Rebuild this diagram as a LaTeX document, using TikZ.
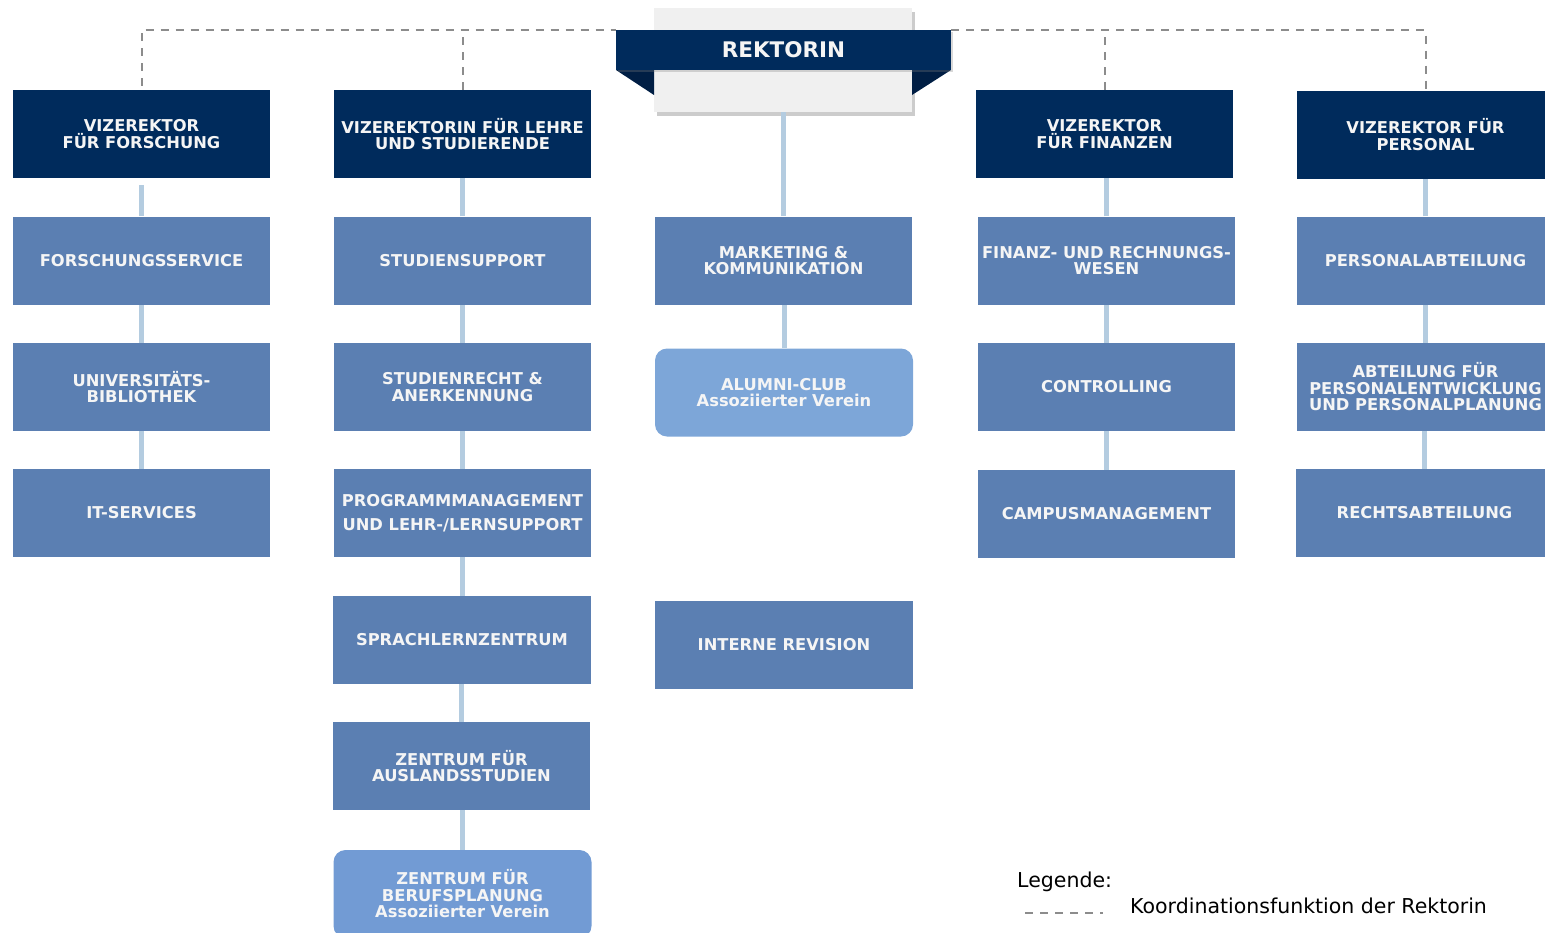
\documentclass[tikz,border=0pt]{standalone}
\usepackage{fontspec}
\setmainfont{DejaVu Sans}
\usetikzlibrary{shadows}
\definecolor{navy}{RGB}{0,43,92}
\definecolor{navydark}{RGB}{0,30,68}
\definecolor{midblue}{RGB}{91,127,178}
\definecolor{lightblue}{RGB}{125,166,216}
\definecolor{assocblue}{RGB}{114,155,212}
\definecolor{connblue}{RGB}{180,204,224}
\definecolor{dashgray}{RGB}{140,140,140}
\definecolor{boxtext}{RGB}{245,245,245}
\begin{document}
\begin{tikzpicture}[x=1pt,y=-1pt,
  boxbase/.style={minimum width=257pt,minimum height=88pt,inner sep=0pt,align=center,
    text=boxtext,font=\fontsize{16.3}{16.5}\selectfont\bfseries},
  vrbox/.style={boxbase,fill=navy},
  unitbox/.style={boxbase,fill=midblue},
  assocbox/.style={boxbase,fill=lightblue,rounded corners=12pt},
  connline/.style={draw=connblue,line width=5pt},
  coordline/.style={draw=dashgray,line width=2pt,dash pattern=on 8pt off 7pt},
  legendtext/.style={font=\fontsize{20.5}{24}\selectfont,inner sep=0pt,anchor=west}]
\useasboundingbox (0,0) rectangle (1545,932);
% Rektorin
\node[fill=black!6,minimum width=258pt,minimum height=104pt,inner sep=0pt,
  drop shadow={shadow xshift=3pt,shadow yshift=-4pt,opacity=0.4}] (rek) at (783,60) {};
\fill[navydark] (616,70) -- (654,70) -- (654,95) -- cycle;
\fill[navydark] (951,70) -- (912,70) -- (912,95) -- cycle;
\node[fill=navy,minimum width=335pt,minimum height=40pt,inner sep=0pt,text=boxtext,
  font=\fontsize{21.5}{24}\selectfont\bfseries,
  drop shadow={shadow xshift=2pt,shadow yshift=-2pt,opacity=0.3}] (ban) at (783.5,50) {REKTORIN};
% Vizerektoren
\node[vrbox] (vr1) at (141.5,134) {VIZEREKTOR\\FÜR FORSCHUNG};
\node[vrbox] (vr2) at (462.5,134) {VIZEREKTORIN FÜR LEHRE\\UND STUDIERENDE};
\node[vrbox] (vr4) at (1104.5,134) {VIZEREKTOR\\FÜR FINANZEN};
\node[vrbox] (vr5) at (1425.5,134.5) {VIZEREKTOR FÜR\\PERSONAL};
% column 1
\node[unitbox] (a1) at (141.5,260.5) {FORSCHUNGSSERVICE};
\node[unitbox] (a2) at (141.5,387) {UNIVERSITÄTS-\\BIBLIOTHEK};
\node[unitbox] (a3) at (141.5,513) {IT-SERVICES};
% column 2
\node[unitbox] (b1) at (462.5,260.5) {STUDIENSUPPORT};
\node[unitbox] (b2) at (462.5,387) {STUDIENRECHT \&\\ANERKENNUNG};
\node[unitbox,font=\fontsize{16.3}{24}\selectfont\bfseries] (b3) at (462.5,513) {PROGRAMMMANAGEMENT\\UND LEHR-/LERNSUPPORT};
\node[unitbox,minimum width=258pt] (b4) at (462,640) {SPRACHLERNZENTRUM};
\node[unitbox] (b5) at (461.5,766) {ZENTRUM FÜR\\AUSLANDSSTUDIEN};
\node[assocbox,fill=assocblue,minimum width=258pt] (b6) at (462.5,894) {ZENTRUM FÜR\\BERUFSPLANUNG\\Assoziierter Verein};
% column 3
\node[unitbox] (c1) at (783.5,260.5) {MARKETING \&\\KOMMUNIKATION};
\node[assocbox,minimum width=258pt] (c2) at (784,392.5) {ALUMNI-CLUB\\Assoziierter Verein};
\node[unitbox,minimum width=258pt] (c3) at (784,645) {INTERNE REVISION};
% column 4
\node[unitbox] (d1) at (1106.5,260.5) {FINANZ- UND RECHNUNGS-\\WESEN};
\node[unitbox] (d2) at (1106.5,387) {CONTROLLING};
\node[unitbox] (d3) at (1106.5,514) {CAMPUSMANAGEMENT};
% column 5
\node[unitbox] (e1) at (1425.5,260.5) {PERSONALABTEILUNG};
\node[unitbox] (e2) at (1425.5,387) {ABTEILUNG FÜR\\PERSONALENTWICKLUNG\\UND PERSONALPLANUNG};
\node[unitbox] (e3) at (1424.5,513) {RECHTSABTEILUNG};
% solid connectors (vertical, from child up to parent)
\draw[connline] (a1.north) -- ([yshift=-7pt]a1.north |- vr1.south);
\draw[connline] (a2.north) -- (a2.north |- a1.south);
\draw[connline] (a3.north) -- (a3.north |- a2.south);
\draw[connline] (b1.north) -- (b1.north |- vr2.south);
\draw[connline] (b2.north) -- (b2.north |- b1.south);
\draw[connline] (b3.north) -- (b3.north |- b2.south);
\draw[connline] (b4.north) -- (b4.north |- b3.south);
\draw[connline] (b5.north) -- (b5.north |- b4.south);
\draw[connline] (b6.north) -- (b6.north |- b5.south);
\draw[connline] (c1.north) -- (c1.north |- rek.south);
\draw[connline] (c2.north) -- (c2.north |- c1.south);
\draw[connline] (d1.north) -- (d1.north |- vr4.south);
\draw[connline] (d2.north) -- (d2.north |- d1.south);
\draw[connline] (d3.north) -- (d3.north |- d2.south);
\draw[connline] (e1.north) -- (e1.north |- vr5.south);
\draw[connline] (e2.north) -- (e2.north |- e1.south);
\draw[connline] (e3.north) -- (e3.north |- e2.south);
% dashed coordination lines
\draw[coordline] ([yshift=4pt]vr1.north) |- (ban.north west);
\draw[coordline] (vr2.north) -- (vr2.north |- ban.north west);
\draw[coordline] (ban.north east) -| (vr5.north);
\draw[coordline] (vr4.north) -- (vr4.north |- ban.north east);
% legend
\node[legendtext] (leg) at (1017,882) {Legende:};
\node[legendtext] (legk) at (1130,906) {Koordinationsfunktion der Rektorin};
\coordinate (ls) at (1025,913);
\coordinate (le) at (1103,913);
\draw[coordline,line width=1.5pt] (ls) -- (le);
\end{tikzpicture}
\end{document}
